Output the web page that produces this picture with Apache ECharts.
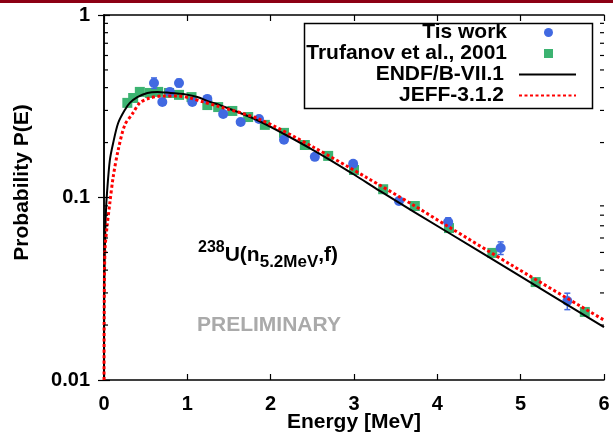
<!DOCTYPE html>
<html>
<head>
<meta charset="utf-8">
<script src="https://cdn.jsdelivr.net/npm/echarts@6/dist/echarts.min.js"></script>
<style>
html, body { margin: 0; padding: 0; background: #fff; }
#chart { width: 613px; height: 436px; }
</style>
</head>
<body>
<div id="chart"></div>
<script>
// values
let tisE   = [0.60, 0.70, 0.79, 0.90, 1.06, 1.24, 1.43, 1.64, 1.86, 2.16, 2.53, 2.99, 3.54, 4.13, 4.76, 5.56];
let tisP   = [0.424, 0.334, 0.379, 0.424, 0.334, 0.347, 0.287, 0.259, 0.269, 0.207, 0.167, 0.153, 0.0957, 0.0734, 0.0529, 0.0271];
let tisErr = [0.028, 0.012, 0.015, 0.020, 0.012, 0.012, 0.010, 0.008, 0.008, 0.006, 0.005, 0.005, 0.004, 0.004, 0.0042, 0.0028];

let trufE = [0.28, 0.35, 0.43, 0.55, 0.65, 0.78, 0.90, 1.05, 1.24, 1.37, 1.54, 1.73, 1.93, 2.16, 2.41, 2.69, 3.00, 3.35, 3.73, 4.14, 4.66, 5.18, 5.77];
let trufP = [0.330, 0.351, 0.379, 0.374, 0.379, 0.374, 0.365, 0.355, 0.321, 0.313, 0.298, 0.276, 0.250, 0.226, 0.194, 0.169, 0.1415, 0.111, 0.0898, 0.068, 0.0497, 0.0344, 0.0236];

let endfE = [0.0004, 0.003, 0.012, 0.024, 0.036, 0.07, 0.11, 0.17, 0.25, 0.31, 0.40, 0.52, 0.64, 0.80, 0.95, 1.12, 1.27, 1.39, 1.86, 2.51, 2.99, 3.31, 4.12, 4.91, 6.0];
let endfP = [0.01, 0.03, 0.056, 0.0855, 0.106, 0.160, 0.199, 0.256, 0.302, 0.330, 0.355, 0.374, 0.379, 0.374, 0.369, 0.355, 0.334, 0.321, 0.2625, 0.182, 0.1345, 0.1086, 0.0647, 0.0391, 0.0195];

let jeffE = [0.0004, 0.003, 0.012, 0.036, 0.07, 0.11, 0.17, 0.25, 0.34, 0.43, 0.55, 0.71, 0.88, 1.03, 1.19, 1.36, 1.86, 2.51, 3.16, 3.71, 4.12, 4.91, 6.0];
let jeffP = [0.01, 0.027, 0.0516, 0.0689, 0.0933, 0.1295, 0.182, 0.25, 0.287, 0.330, 0.351, 0.360, 0.360, 0.351, 0.334, 0.317, 0.269, 0.189, 0.128, 0.091, 0.0698, 0.0421, 0.0213];

let minorTicks = [0.02, 0.03, 0.04, 0.05, 0.06, 0.07, 0.08, 0.09, 0.2, 0.3, 0.4, 0.5, 0.6, 0.7, 0.8, 0.9];

const FONT = 'Liberation Sans';

function pairs(xs, ys) {
	return xs.map((x, i) => [x, ys[i]]);
}

let chart = echarts.init(document.getElementById('chart'), null, { renderer: 'canvas' });

let axisLine = { show: true, lineStyle: { color: '#000', width: 1.5 } };
let tickStyle = { show: true, inside: true, length: 6, lineStyle: { color: '#000', width: 1.2 } };
let labelStyle = { fontFamily: FONT, fontSize: 20, fontWeight: 'bold', color: '#000' };

let option = {
	animation: false,
	backgroundColor: '#fff',
	grid: { left: 104, right: 9, top: 15, bottom: 56, outerBoundsMode: 'none' },
	xAxis: [{
		type: 'value', min: 0, max: 6, interval: 1,
		axisLine: axisLine, axisTick: tickStyle,
		axisLabel: Object.assign({ margin: 14 }, labelStyle),
		splitLine: { show: false },
		name: 'Energy [MeV]', nameLocation: 'middle', nameGap: 32, nameMoveOverlap: false,
		nameTextStyle: { fontFamily: FONT, fontSize: 21, fontWeight: 'bold', color: '#000' }
	}, {
		type: 'value', min: 0, max: 6, interval: 1, position: 'top',
		axisLine: axisLine, axisTick: tickStyle,
		axisLabel: { show: false }, splitLine: { show: false }
	}],
	yAxis: [{
		type: 'log', logBase: 10, min: 0.01, max: 1,
		axisLine: axisLine, axisTick: tickStyle,
		axisLabel: Object.assign({ margin: 14 }, labelStyle),
		splitLine: { show: false },
		name: 'Probability P(E)', nameLocation: 'middle', nameGap: 71, nameMoveOverlap: false,
		nameTextStyle: { fontFamily: FONT, fontSize: 21, fontWeight: 'bold', color: '#000', padding: [0, 0, 0, 30] }
	}, {
		type: 'log', logBase: 10, min: 0.01, max: 1, position: 'right',
		axisLine: axisLine, axisTick: tickStyle,
		axisLabel: { show: false }, splitLine: { show: false }
	}],
	legend: [{
		data: [{ name: 'Tis work', icon: 'circle' }, { name: 'Trufanov et al., 2001', icon: 'rect' }],
		orient: 'vertical', align: 'right', right: 60, top: 22,
		itemWidth: 9, itemHeight: 9, itemGap: 0, padding: 0, selectedMode: false,
		formatter: n => '{t|' + n + '}',
		textStyle: { rich: { t: { fontFamily: FONT, fontSize: 21, fontWeight: 'bold', color: '#000', lineHeight: 20, padding: [0, 32, 0, 0] } } }
	}, {
		data: ['ENDF/B-VII.1', 'JEFF-3.1.2'],
		orient: 'vertical', align: 'right', right: 36, top: 64,
		itemWidth: 57, itemHeight: 12, itemGap: 0, padding: 0, selectedMode: false,
		itemStyle: { opacity: 0 },
		formatter: n => '{t|' + n + '}',
		textStyle: { rich: { t: { fontFamily: FONT, fontSize: 21, fontWeight: 'bold', color: '#000', lineHeight: 22.5, padding: [0, 10, 0, 0] } } }
	}],
	graphic: [{
		type: 'rect', left: 0, top: 0, shape: { width: 613, height: 3 }, style: { fill: '#8c0014' }
	}, {
		type: 'rect', left: 302, top: 21, shape: { width: 288, height: 85 },
		style: { fill: null, stroke: '#000', lineWidth: 1.5 }, z: 10
	}, {
		type: 'text', left: 198, top: 240,
		style: {
			text: '{sup|238}{m|U(n}{sub|5.2MeV}{m|,f)}',
			rich: {
				m: { fontFamily: FONT, fontSize: 21, fontWeight: 'bold', color: '#000', lineHeight: 31 },
				sup: { fontFamily: FONT, fontSize: 16, fontWeight: 'bold', color: '#000', lineHeight: 17, verticalAlign: 'top' },
				sub: { fontFamily: FONT, fontSize: 17, fontWeight: 'bold', color: '#000', lineHeight: 15, verticalAlign: 'bottom' }
			}
		}
	}, {
		type: 'text', left: 197, top: 315,
		style: { text: 'PRELIMINARY', fontFamily: FONT, fontSize: 21, fontWeight: 'bold', fill: '#aaaaaa' }
	}],
	series: [{
		name: 'Trufanov et al., 2001', type: 'scatter',
		data: pairs(trufE, trufP),
		symbol: 'rect', symbolSize: 10,
		itemStyle: { color: '#3cb371', opacity: 1 }, z: 2
	}, {
		name: 'Tis work errors', type: 'custom',
		data: tisE.map((e, i) => [e, tisP[i] - tisErr[i], tisP[i] + tisErr[i]]),
		encode: { x: 0, y: [1, 2] },
		renderItem: function (params, api) {
			let e = api.value(0);
			let lo = api.coord([e, api.value(1)]);
			let hi = api.coord([e, api.value(2)]);
			let st = { stroke: '#4169e1', lineWidth: 1.5 };
			return {
				type: 'group',
				children: [
					{ type: 'line', shape: { x1: lo[0], y1: lo[1], x2: hi[0], y2: hi[1] }, style: st },
					{ type: 'line', shape: { x1: lo[0] - 3, y1: lo[1], x2: lo[0] + 3, y2: lo[1] }, style: st },
					{ type: 'line', shape: { x1: hi[0] - 3, y1: hi[1], x2: hi[0] + 3, y2: hi[1] }, style: st }
				]
			};
		},
		silent: true, z: 3
	}, {
		name: 'Tis work', type: 'scatter',
		data: pairs(tisE, tisP),
		symbol: 'circle', symbolSize: 10,
		itemStyle: { color: '#4169e1', opacity: 1 }, z: 3
	}, {
		name: 'ENDF/B-VII.1', type: 'line',
		data: pairs(endfE, endfP),
		symbol: 'none', smooth: 0.3,
		lineStyle: { color: '#000', width: 2 },
		itemStyle: { color: '#000' }, z: 4
	}, {
		name: 'JEFF-3.1.2', type: 'line',
		data: pairs(jeffE, jeffP),
		symbol: 'none', smooth: 0.3,
		lineStyle: { color: '#ff0000', width: 3, type: [3, 2.5] },
		itemStyle: { color: '#ff0000' }, z: 5
	}, {
		// log minor ticks on left and right edges
		type: 'custom',
		data: minorTicks.map(v => [0, v]),
		encode: { x: 0, y: 1 },
		renderItem: function (params, api) {
			let v = api.value(1);
			let l = api.coord([0, v]);
			let r = api.coord([6, v]);
			let st = { stroke: '#000', lineWidth: 1.2 };
			return {
				type: 'group',
				children: [
					{ type: 'line', shape: { x1: l[0], y1: l[1], x2: l[0] + 4, y2: l[1] }, style: st },
					{ type: 'line', shape: { x1: r[0], y1: r[1], x2: r[0] - 4, y2: r[1] }, style: st }
				]
			};
		},
		silent: true, z: 6
	}]
};

chart.setOption(option);
</script>
</body>
</html>
